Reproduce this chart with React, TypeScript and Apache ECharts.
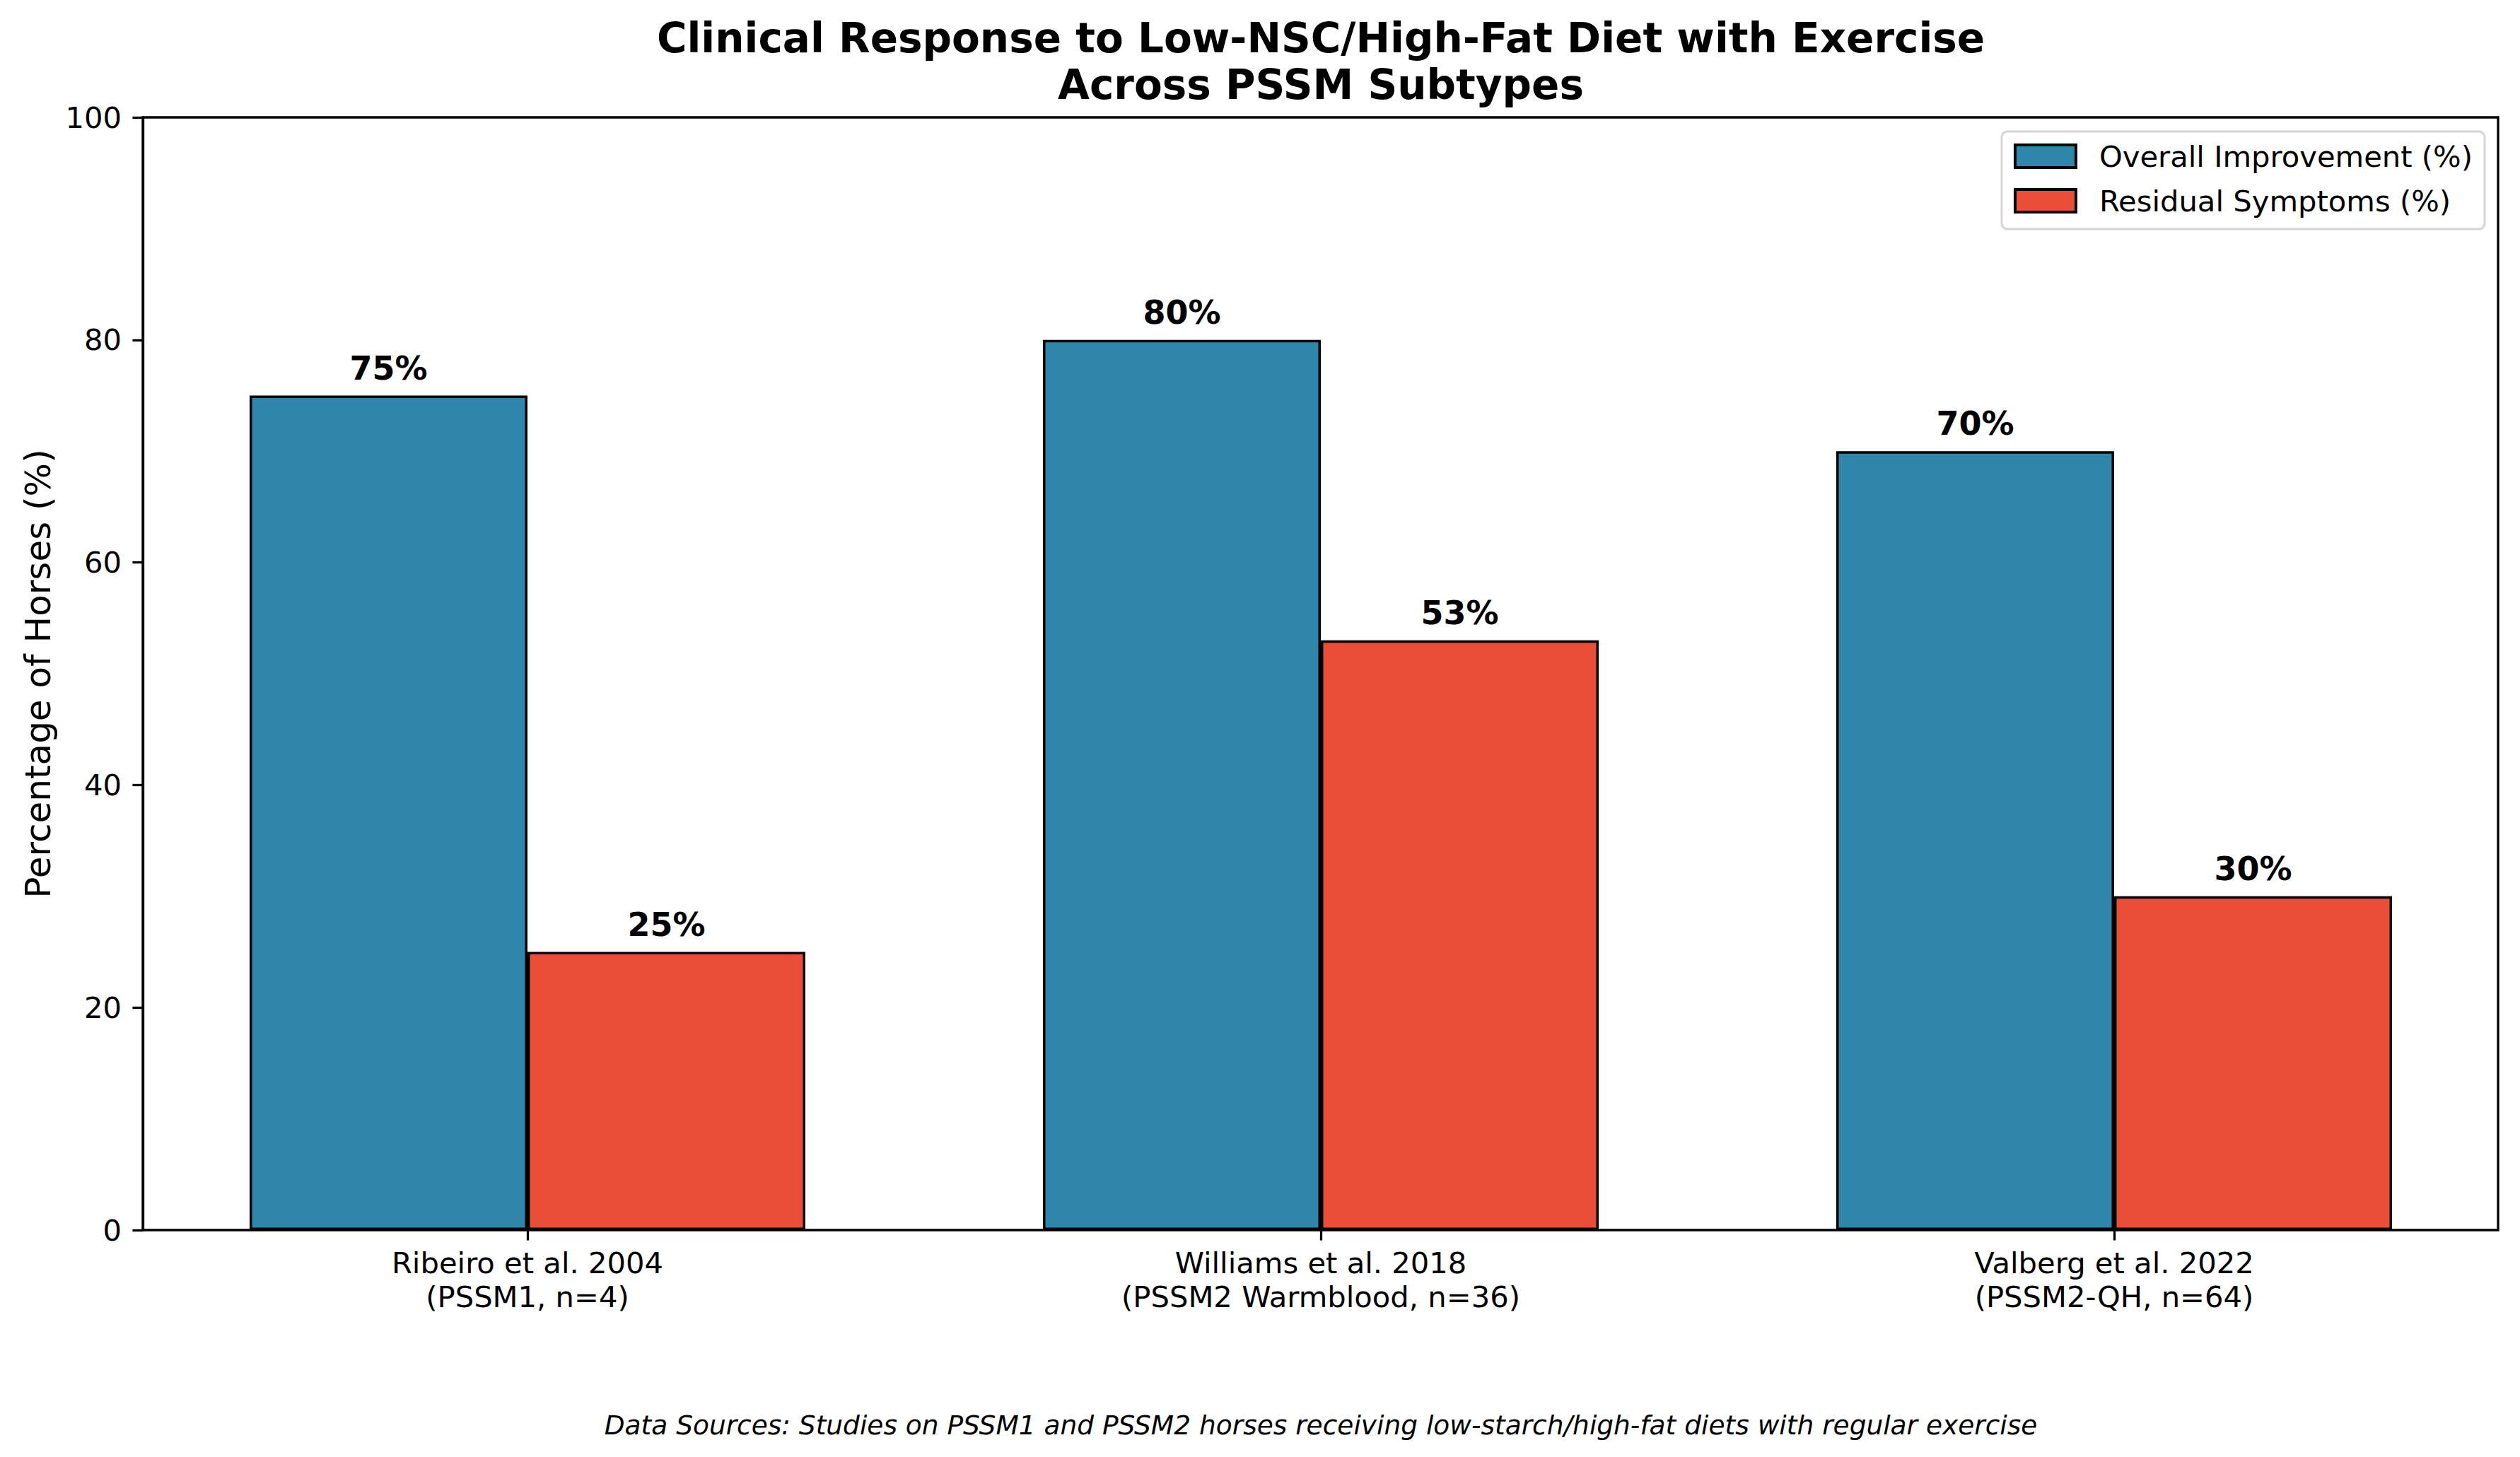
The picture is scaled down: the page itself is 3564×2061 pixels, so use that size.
import React, { useEffect, useRef } from "react";
import * as echarts from "echarts";

const categories = [
  "Ribeiro et al. 2004\n(PSSM1, n=4)",
  "Williams et al. 2018\n(PSSM2 Warmblood, n=36)",
  "Valberg et al. 2022\n(PSSM2-QH, n=64)",
];
const improvement = [75, 80, 70];
const residual = [25, 53, 30];
const seriesNames = ["Overall Improvement (%)", "Residual Symptoms (%)"];
const titleLines = [
  "Clinical Response to Low-NSC/High-Fat Diet with Exercise",
  "Across PSSM Subtypes",
];
const yLabel = "Percentage of Horses (%)";
const footnote =
  "Data Sources: Studies on PSSM1 and PSSM2 horses receiving low-starch/high-fat diets with regular exercise";

const FONT = "'DejaVu Sans', sans-serif";
const W = 3564;
const H = 2061;

export default function App() {
  const ref = useRef<HTMLDivElement>(null);
  useEffect(() => {
    document.body.style.margin = "0";
    const chart = echarts.init(ref.current!, null, { renderer: "svg" });
    const plotTop = 166;
    const plotBottom = 1740;
    const plotH = plotBottom - plotTop;
    const barLabel = {
      show: true,
      position: "top",
      distance: 16,
      formatter: "{c}%",
      fontSize: 46,
      fontWeight: "bold",
      color: "#000",
      fontFamily: FONT,
    };
    chart.setOption({
      animation: false,
      backgroundColor: "#fff",
      textStyle: { fontFamily: FONT },
      grid: [
        { left: 185, width: 3366, top: plotTop, height: plotH },
        {
          left: 202,
          width: 3331,
          top: plotTop,
          height: plotH,
          show: true,
          borderColor: "#000",
          borderWidth: 3.3,
          backgroundColor: "transparent",
        },
      ],
      xAxis: [
        {
          type: "category",
          gridIndex: 0,
          data: categories,
          axisLine: { show: false },
          axisTick: {
            show: true,
            alignWithLabel: true,
            length: 14.6,
            lineStyle: { color: "#000", width: 3.3 },
          },
          axisLabel: {
            fontSize: 41.7,
            color: "#000",
            lineHeight: 48,
            margin: 22,
            fontFamily: FONT,
          },
          splitLine: { show: false },
        },
        { type: "value", gridIndex: 1, show: false, min: 0, max: 1 },
      ],
      yAxis: [
        { type: "value", gridIndex: 0, min: 0, max: 100, show: false },
        {
          type: "value",
          gridIndex: 1,
          min: 0,
          max: 100,
          interval: 20,
          axisLine: { show: true, lineStyle: { color: "#000", width: 3.3 } },
          axisTick: {
            show: true,
            length: 14.6,
            lineStyle: { color: "#000", width: 3.3 },
          },
          axisLabel: {
            fontSize: 41.7,
            color: "#000",
            margin: 30,
            fontFamily: FONT,
          },
          splitLine: { show: false },
        },
      ],
      legend: {
        orient: "vertical",
        right: 50,
        top: 186,
        icon: "rect",
        itemWidth: 86,
        itemHeight: 32,
        itemGap: 21,
        itemStyle: { borderColor: "#000", borderWidth: 4 },
        textStyle: {
          fontSize: 41.7,
          color: "#000",
          fontFamily: FONT,
          padding: [0, 0, 0, 28],
        },
        padding: [14, 17, 19, 17],
        backgroundColor: "#fff",
        borderColor: "#d6d6d6",
        borderWidth: 3,
        borderRadius: 8,
        data: seriesNames,
      },
      series: [
        {
          name: seriesNames[0],
          type: "bar",
          xAxisIndex: 0,
          yAxisIndex: 0,
          data: improvement,
          barWidth: 393,
          barGap: "0%",
          itemStyle: { color: "#2E86AB", borderColor: "#000", borderWidth: 3.5 },
          label: barLabel,
        },
        {
          name: seriesNames[1],
          type: "bar",
          xAxisIndex: 0,
          yAxisIndex: 0,
          data: residual,
          barWidth: 393,
          barGap: "0%",
          itemStyle: { color: "#E94F37", borderColor: "#000", borderWidth: 3.5 },
          label: barLabel,
        },
      ],
      graphic: [
        {
          type: "text",
          x: 1868,
          y: 54,
          style: {
            text: titleLines[0],
            fontSize: 58,
            fontWeight: "bold",
            fontFamily: FONT,
            fill: "#000",
            textAlign: "center",
            textVerticalAlign: "middle",
          },
        },
        {
          type: "text",
          x: 1868,
          y: 120,
          style: {
            text: titleLines[1],
            fontSize: 58,
            fontWeight: "bold",
            fontFamily: FONT,
            fill: "#000",
            textAlign: "center",
            textVerticalAlign: "middle",
          },
        },
        {
          type: "text",
          x: 54,
          y: 953,
          rotation: Math.PI / 2,
          style: {
            text: yLabel,
            fontSize: 50,
            fontFamily: FONT,
            fill: "#000",
            textAlign: "center",
            textVerticalAlign: "middle",
          },
        },
        {
          type: "text",
          x: 1868,
          y: 2016,
          style: {
            text: footnote,
            fontSize: 37.5,
            fontStyle: "italic",
            fontFamily: FONT,
            fill: "#000",
            textAlign: "center",
            textVerticalAlign: "middle",
          },
        },
      ],
    });
    return () => chart.dispose();
  }, []);
  return <div ref={ref} style={{ width: W, height: H }} />;
}
